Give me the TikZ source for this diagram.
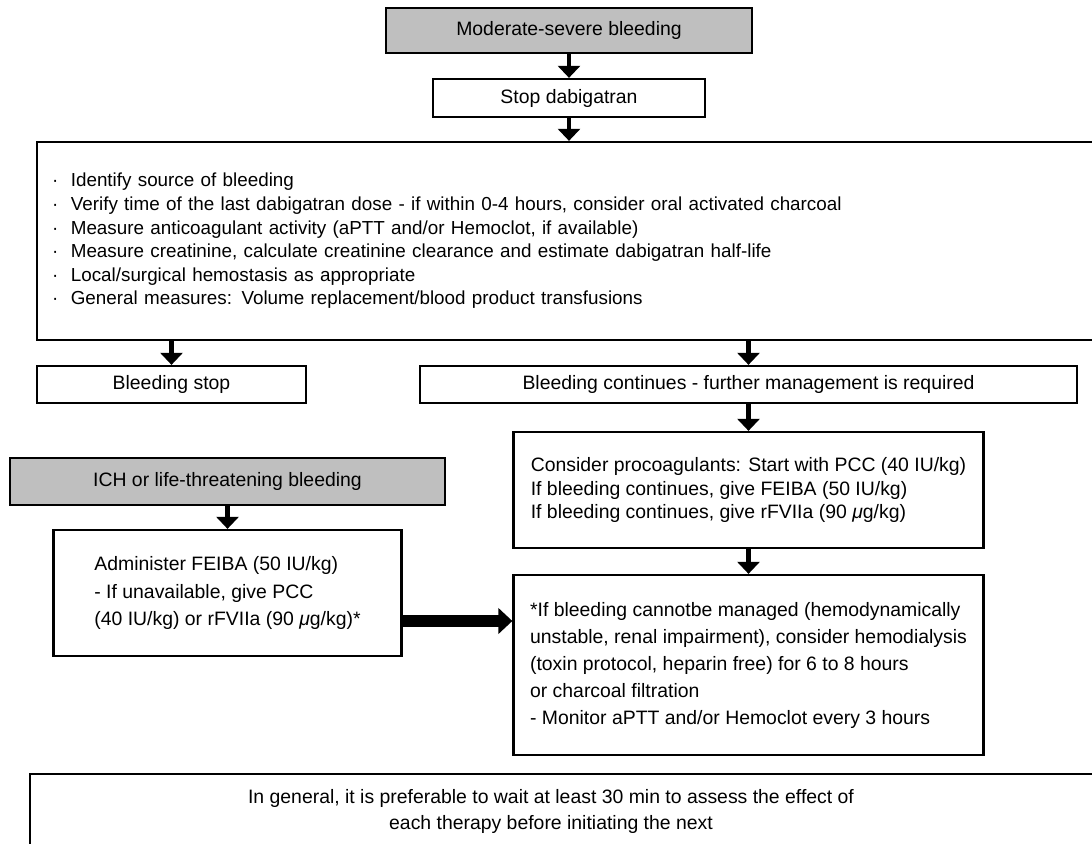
\documentclass[tikz,border=0pt]{standalone}
\usepackage{fontspec}
\setmainfont{Liberation Sans}
\usepackage{tikz}
\usetikzlibrary{arrows.meta, positioning}

\newcommand{\unitpx}{0.025cm}

\tikzset{
	box/.style={
		draw,
		line width=1.6pt,
		inner sep=0pt,
		font=\fontsize{13.8}{17}\selectfont
	},
	graybox/.style={
		box,
		fill=gray!50
	},
	arr/.style={
		line width=3.4pt,
		-{Triangle[width=15.5pt, length=8.5pt]}
	},
	harr/.style={
		line width=9pt,
		-{Triangle[width=18pt, length=10pt]}
	}
}

\begin{document}
\begin{tikzpicture}[x=\unitpx, y=-\unitpx]
	\useasboundingbox (0,0) rectangle (1092,843);
	\clip (0,0) rectangle (1092,843);

	% Kopf
	\node[
		graybox,
		minimum width=366*\unitpx,
		minimum height=45*\unitpx
	] (modsev) at (569,30.5) {Moderate-severe bleeding};
	\node[
		box,
		minimum width=272*\unitpx,
		minimum height=38*\unitpx
	] (stopdab) at (569,98) {Stop dabigatran};

	% Massnahmen
	\node[
		box,
		minimum width=1113*\unitpx,
		minimum height=198*\unitpx,
		text width=1083*\unitpx,
		inner xsep=15*\unitpx,
		align=left,
		font=\fontsize{13.4}{16.8}\selectfont
	] (measures) at (593.5,241) {%
		·\ \ Identify source of bleeding\\
		·\ \ Verify time of the last dabigatran dose - if within 0-4 hours, consider oral activated charcoal\\
		·\ \ Measure anticoagulant activity (aPTT and/or Hemoclot, if available)\\
		·\ \ Measure creatinine, calculate creatinine clearance and estimate dabigatran half-life\\
		·\ \ Local/surgical hemostasis as appropriate\\
		·\ \ General measures: Volume replacement/blood product transfusions\\[15pt]};

	% Verzweigung
	\node[
		box,
		minimum width=269*\unitpx,
		minimum height=37*\unitpx
	] (bstop) at (171.5,384.5) {Bleeding stop};
	\node[
		box,
		minimum width=657*\unitpx,
		minimum height=37*\unitpx
	] (bcont) at (748.5,384.5) {Bleeding continues - further management is required};

	% rechter Zweig
	\node[
		box,
		minimum width=470*\unitpx,
		minimum height=116*\unitpx,
		align=left,
		font=\fontsize{13.8}{16.6}\selectfont
	] (procoag) at (748.5,490) {%
		Consider procoagulants: Start with PCC (40 IU/kg)\\
		If bleeding continues, give FEIBA (50 IU/kg)\\
		If bleeding continues, give rFVIIa (90 {\itshape μ}g/kg)};
	\node[
		box,
		minimum width=470*\unitpx,
		minimum height=180*\unitpx,
		align=left,
		font=\fontsize{13.8}{19.2}\selectfont
	] (dialysis) at (748.5,665) {%
		*If bleeding cannotbe managed (hemodynamically\\
		unstable, renal impairment), consider hemodialysis\\
		(toxin protocol, heparin free) for 6 to 8 hours\\
		or charcoal filtration\\
		- Monitor aPTT and/or Hemoclot every 3 hours};

	% linker Zweig
	\node[
		graybox,
		minimum width=435*\unitpx,
		minimum height=47*\unitpx
	] (ich) at (227.5,481.5) {ICH or life-threatening bleeding};
	\node[
		box,
		minimum width=348*\unitpx,
		minimum height=126*\unitpx,
		align=left,
		font=\fontsize{13.8}{19.4}\selectfont
	] (feiba) at (227.5,593) {%
		Administer FEIBA (50 IU/kg)\\
		- If unavailable, give PCC\\
		(40 IU/kg) or rFVIIa (90 {\itshape μ}g/kg)*};

	% Hinweis unten
	\node[
		box,
		minimum width=1120*\unitpx,
		minimum height=130*\unitpx,
		anchor=north west
	] (waitbox) at (29,773) {};
	\node[
		align=center,
		font=\fontsize{13.8}{18}\selectfont
	] (waittext) at (551,811.5) {%
		In general, it is preferable to wait at least 30 min to assess the effect of\\
		each therapy before initiating the next};

	% Pfeile
	\draw[arr] (modsev) -- (stopdab);
	\draw[arr] (stopdab) -- (stopdab |- measures.north);
	\draw[arr] (measures.south -| bstop) -- (bstop);
	\draw[arr] (measures.south -| bcont) -- (bcont);
	\draw[arr] (bcont) -- (procoag);
	\draw[arr] (procoag) -- (dialysis);
	\draw[arr] (ich) -- (feiba);
	\coordinate (feibaout) at (402,621);
	\draw[harr] (feibaout) -- (feibaout -| dialysis.west);
\end{tikzpicture}
\end{document}
